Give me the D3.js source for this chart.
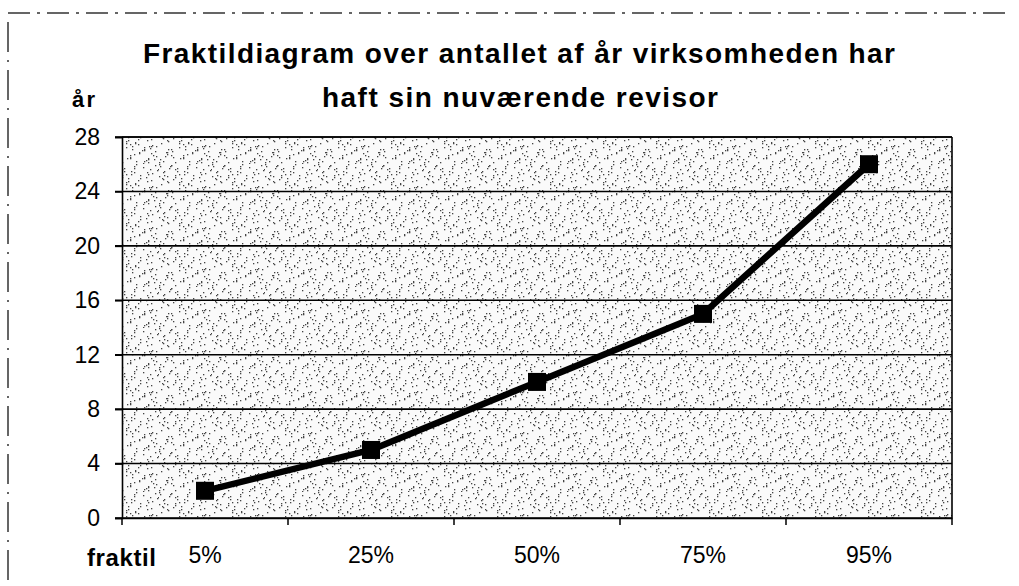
<!DOCTYPE html>
<html>
<head>
<meta charset="utf-8">
<script src="https://cdn.jsdelivr.net/npm/d3@7"></script>
<style>
  html, body { margin: 0; padding: 0; background: #fff; }
  svg { display: block; }
  text { font-family: Arial, "Liberation Sans", sans-serif; fill: #000; }
</style>
</head>
<body>
<svg id="chart" width="1019" height="586"></svg>
<script>
// ---- data ----
const categories = ["5%", "25%", "50%", "75%", "95%"];
const values = [2, 5, 10, 15, 26];
const yTicks = [0, 4, 8, 12, 16, 20, 24, 28];
const titleLines = ["Fraktildiagram over antallet af år virksomheden har", "haft sin nuværende revisor"];
const yLabel = "år";
const xLabel = "fraktil";

const svg = d3.select("#chart");
const plot = { left: 122, right: 952, top: 137, bottom: 518 };

// stipple pattern (texture only)
const defs = svg.append("defs");
const tileW = 53, tileH = 41;
const pat = defs.append("pattern")
  .attr("id", "stipple").attr("patternUnits", "userSpaceOnUse")
  .attr("width", tileW).attr("height", tileH);
pat.append("rect").attr("width", tileW).attr("height", tileH).attr("fill", "#fafafa");
const dots = [];
for (let i = 0; i < 95; i++) {
  dots.push([(i * 37 + (i * i) % 13) % tileW, (i * 23 + (i * i * 3) % 7) % tileH]);
}
pat.selectAll("rect.d").data(dots).enter().append("rect").attr("class", "d")
  .attr("x", d => d[0]).attr("y", d => d[1]).attr("width", 1.3).attr("height", 1.3)
  .attr("fill", "#444");

// outer dashed frame
svg.append("line").attr("x1", 8).attr("x2", 1012).attr("y1", 13).attr("y2", 13)
  .attr("stroke", "#333").attr("stroke-width", 1.5).attr("stroke-dasharray", "22,7,3,7");
svg.append("line").attr("x1", 8).attr("x2", 8).attr("y1", 22).attr("y2", 586)
  .attr("stroke", "#333").attr("stroke-width", 1.5).attr("stroke-dasharray", "30,8,2,8");

// scales
const x = d3.scaleBand().domain(categories).range([plot.left, plot.right]).padding(0);
const y = d3.scaleLinear().domain([0, 28]).range([plot.bottom, plot.top]);

// plot background
svg.append("rect").attr("x", plot.left).attr("y", plot.top)
  .attr("width", plot.right - plot.left).attr("height", plot.bottom - plot.top)
  .attr("fill", "url(#stipple)");

// gridlines
svg.append("g").selectAll("line").data(yTicks).enter().append("line")
  .attr("x1", plot.left - 7).attr("x2", plot.right)
  .attr("y1", d => y(d)).attr("y2", d => y(d))
  .attr("stroke", "#000").attr("stroke-width", 1.6);

// y axis
const yAxis = svg.append("g").attr("transform", `translate(${plot.left},0)`)
  .call(d3.axisLeft(y).tickValues(yTicks).tickSize(7).tickPadding(15));
yAxis.select(".domain").attr("stroke", "#000").attr("stroke-width", 1.6);
yAxis.selectAll(".tick line").attr("stroke", "#000").attr("stroke-width", 1.6);
yAxis.selectAll(".tick text").style("font-size", "23px")
  .style("font-family", "Arial, 'Liberation Sans', sans-serif").attr("fill", "#000");

// x axis
const xAxis = svg.append("g").attr("transform", `translate(0,${plot.bottom})`)
  .call(d3.axisBottom(x).tickSize(0).tickPadding(29));
xAxis.select(".domain").attr("stroke", "#000").attr("stroke-width", 1.6);
xAxis.selectAll(".tick text").style("font-size", "23px")
  .style("font-family", "Arial, 'Liberation Sans', sans-serif").attr("fill", "#000");
// category boundary ticks
const bounds = categories.map(c => x(c)).concat([x(categories[categories.length - 1]) + x.bandwidth()]);
svg.append("g").selectAll("line").data(bounds).enter().append("line")
  .attr("x1", d => d).attr("x2", d => d).attr("y1", plot.bottom).attr("y2", plot.bottom + 7)
  .attr("stroke", "#000").attr("stroke-width", 1.5);

// right & top border
svg.append("line").attr("x1", plot.right).attr("x2", plot.right).attr("y1", plot.top).attr("y2", plot.bottom)
  .attr("stroke", "#000").attr("stroke-width", 1.6);
svg.append("line").attr("x1", plot.left).attr("x2", plot.right).attr("y1", plot.top).attr("y2", plot.top)
  .attr("stroke", "#000").attr("stroke-width", 1.6);

// line series
const pts = categories.map((c, i) => [x(c) + x.bandwidth() / 2, y(values[i])]);
svg.append("path").attr("d", d3.line()(pts))
  .attr("fill", "none").attr("stroke", "#000").attr("stroke-width", 6.5).attr("stroke-linejoin", "round");
const ms = 18;
svg.append("g").selectAll("rect").data(pts).enter().append("rect")
  .attr("x", d => d[0] - ms / 2).attr("y", d => d[1] - ms / 2)
  .attr("width", ms).attr("height", ms).attr("fill", "#000");

// title
svg.append("text").attr("x", 143).attr("y", 63).attr("textLength", 752).attr("lengthAdjust", "spacing")
  .style("font-size", "28px").style("font-weight", "bold").text(titleLines[0]);
svg.append("text").attr("x", 322).attr("y", 107).attr("textLength", 396).attr("lengthAdjust", "spacing")
  .style("font-size", "28px").style("font-weight", "bold").text(titleLines[1]);

// axis labels
svg.append("text").attr("x", 72).attr("y", 107).attr("textLength", 23).attr("lengthAdjust", "spacing")
  .style("font-size", "22px").style("font-weight", "bold").text(yLabel);
svg.append("text").attr("x", 87).attr("y", 566).attr("textLength", 69).attr("lengthAdjust", "spacing")
  .style("font-size", "24px").style("font-weight", "bold").text(xLabel);
</script>
</body>
</html>
